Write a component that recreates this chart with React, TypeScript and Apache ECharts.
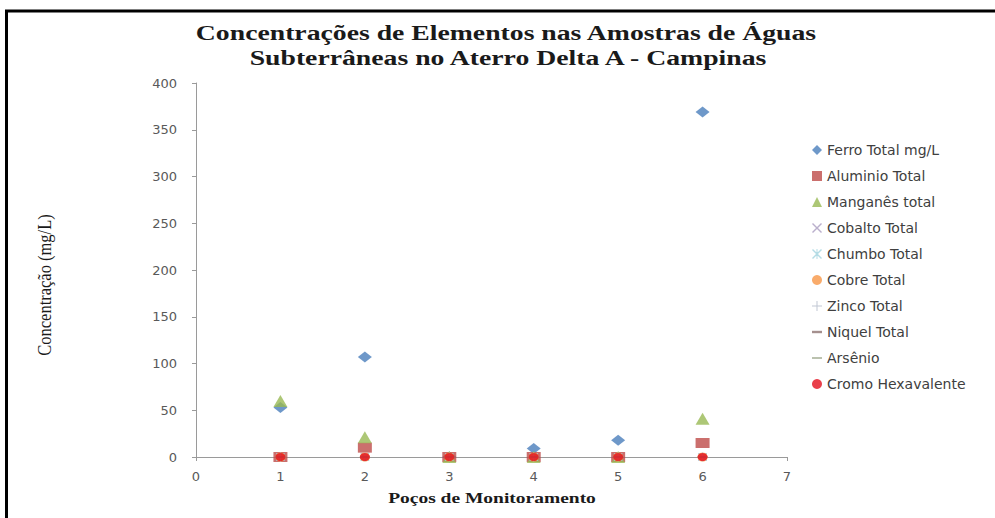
import React, { useEffect, useRef } from "react";
import * as echarts from "echarts";

const wells = [1, 2, 3, 4, 5, 6];
const ferro = [53, 107, 0, 9, 18, 369];
const aluminio = [0, 10, 0, 0, 0, 15];
const manganes = [60, 21, 0, 0, 0, 41];
const cobalto = [0, 0, 0, 0, 0, 0];
const chumbo = [0, 0, 0, 0, 0, 0];
const cobre = [0, 0, 0, 0, 0, 0];
const zinco = [0, 0, 0, 0, 0, 0];
const niquel = [0, 0, 0, 0, 0, 0];
const arsenio = [0, 0, 0, 0, 0, 0];
const cromo = [0, 0, 0, 0, 0, 0];

const seriesNames = [
  "Ferro Total mg/L",
  "Aluminio Total",
  "Manganês total",
  "Cobalto Total",
  "Chumbo Total",
  "Cobre Total",
  "Zinco Total",
  "Niquel Total",
  "Arsênio",
  "Cromo Hexavalente",
];
const seriesValues = [ferro, aluminio, manganes, cobalto, chumbo, cobre, zinco, niquel, arsenio, cromo];

const titleLines = ["Concentrações de Elementos nas Amostras de Águas", "Subterrâneas no Aterro Delta A - Campinas"];
const xAxisTitle = "Poços de Monitoramento";
const yAxisTitle = "Concentração (mg/L)";

const X_PATH = "path://M0,1 L1,0 L5,4 L9,0 L10,1 L6,5 L10,9 L9,10 L5,6 L1,10 L0,9 L4,5 Z";
const PLUS_PATH = "path://M4.5,0 H5.5 V4.5 H10 V5.5 H5.5 V10 H4.5 V5.5 H0 V4.5 H4.5 Z";
const STAR_PATH = "path://M0,1 L1,0 L5,4 L9,0 L10,1 L6,5 L10,9 L9,10 L5,6 L1,10 L0,9 L4,5 Z M4.5,0 H5.5 V10 H4.5 Z";
const SHORT_DASH = "path://M0,0 H10 V2.4 H0 Z";
const LONG_DASH = "path://M0,0 H10 V1.5 H0 Z";

const styles = [
  { symbol: "diamond", size: [14, 11], keep: false, color: "#4A7EBB" },
  { symbol: "rect", size: [14, 10], keep: false, color: "#BE4B48" },
  { symbol: "triangle", size: [14, 12], keep: false, color: "#98B954" },
  { symbol: X_PATH, size: [9, 8], keep: false, color: "#A99CBF" },
  { symbol: STAR_PATH, size: [9, 8], keep: false, color: "#A3D3DF" },
  { symbol: "circle", size: [10, 9], keep: false, color: "#F79646" },
  { symbol: PLUS_PATH, size: [9, 9], keep: false, color: "#B0B9C8" },
  { symbol: SHORT_DASH, size: [6, 6], keep: true, color: "#8E7472" },
  { symbol: LONG_DASH, size: [10, 10], keep: true, color: "#8E9A7A" },
  { symbol: "circle", size: [10, 8], keep: false, color: "#E3101E" },
];

export default function App() {
  const ref = useRef<HTMLDivElement>(null);
  useEffect(() => {
    if (!ref.current) return;
    const chart = echarts.init(ref.current, undefined, { renderer: "svg" });
    const series = seriesNames.map((name, i) => ({
      name,
      type: "scatter",
      data: wells.map((w, j) => [w, seriesValues[i][j]]),
      symbol: styles[i].symbol,
      symbolSize: styles[i].size,
      symbolKeepAspect: styles[i].keep,
      itemStyle: { color: styles[i].color },
      z: 2 + i,
    }));
    const titleFont = "bold 21px 'Liberation Serif'";
    chart.setOption({
      animation: false,
      backgroundColor: "#ffffff",
      graphic: [
        { type: "line", shape: { x1: 5, y1: 11, x2: 995, y2: 11 }, style: { stroke: "#000", lineWidth: 3 } },
        { type: "line", shape: { x1: 6.5, y1: 10, x2: 6.5, y2: 518 }, style: { stroke: "#000", lineWidth: 3 } },
        {
          type: "text",
          x: 506,
          y: 33,
          scaleX: 1.32,
          style: { text: titleLines[0], font: titleFont, fill: "#1a1a1a", align: "center", verticalAlign: "middle" },
        },
        {
          type: "text",
          x: 508,
          y: 58,
          scaleX: 1.32,
          style: { text: titleLines[1], font: titleFont, fill: "#1a1a1a", align: "center", verticalAlign: "middle" },
        },
        {
          type: "text",
          x: 492,
          y: 498,
          scaleX: 1.3,
          style: {
            text: xAxisTitle,
            font: "bold 15px 'Liberation Serif'",
            fill: "#1a1a1a",
            align: "center",
            verticalAlign: "middle",
          },
        },
        {
          type: "text",
          x: 45,
          y: 285,
          rotation: Math.PI / 2,
          scaleX: 1.1,
          scaleY: 1.25,
          style: {
            text: yAxisTitle,
            font: "15px 'Liberation Serif'",
            fill: "#1a1a1a",
            align: "center",
            verticalAlign: "middle",
          },
        },
      ],
      grid: { left: 196, right: 208, top: 83, bottom: 61, containLabel: false },
      xAxis: {
        type: "value",
        min: 0,
        max: 7,
        interval: 1,
        axisLine: { show: true, onZero: false, lineStyle: { color: "#9a9a9a", width: 1 } },
        axisTick: { show: true, length: 4, lineStyle: { color: "#9a9a9a" } },
        axisLabel: { fontFamily: "DejaVu Sans", fontSize: 13, color: "#595959", margin: 13 },
        splitLine: { show: false },
      },
      yAxis: {
        type: "value",
        min: 0,
        max: 400,
        interval: 50,
        axisLine: { show: true, lineStyle: { color: "#9a9a9a", width: 1 } },
        axisTick: { show: true, length: 4, lineStyle: { color: "#9a9a9a" } },
        axisLabel: { fontFamily: "DejaVu Sans", fontSize: 13, color: "#595959", margin: 19 },
        splitLine: { show: false },
      },
      legend: {
        orient: "vertical",
        left: 812,
        top: 142,
        padding: 0,
        itemWidth: 10,
        itemHeight: 10,
        itemGap: 10,
        textStyle: { fontFamily: "DejaVu Sans", fontSize: 14, lineHeight: 16, color: "#404040" },
        data: seriesNames,
      },
      series,
    });
    return () => chart.dispose();
  }, []);
  return (
    <div
      ref={ref}
      style={{ position: "fixed", left: 0, top: 0, width: 995, height: 518, background: "#fff" }}
    />
  );
}
